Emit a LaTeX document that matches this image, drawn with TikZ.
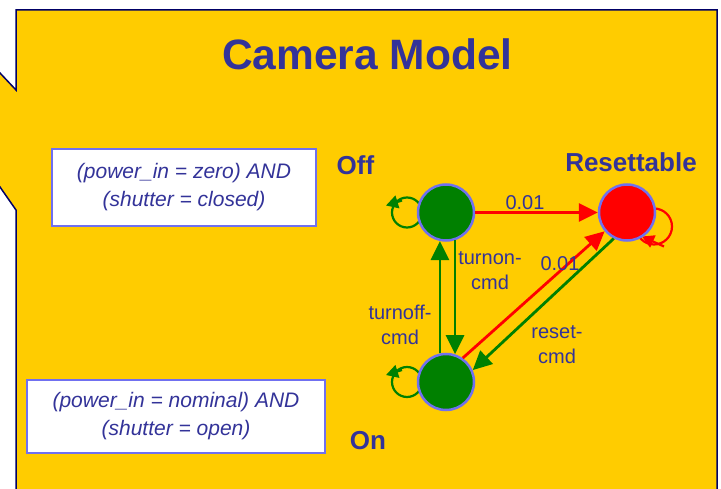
\documentclass[tikz,border=0pt]{standalone}
\usepackage{fontspec}
\setmainfont{Liberation Sans}
\usetikzlibrary{arrows.meta}
\definecolor{bg}{HTML}{FFCC00}
\definecolor{navy}{HTML}{333399}
\definecolor{frame}{HTML}{000066}
\definecolor{ring}{HTML}{7070F0}
\definecolor{sgreen}{HTML}{008000}
\definecolor{sred}{HTML}{FF0000}
\begin{document}
\begin{tikzpicture}[x=1pt,y=-1pt,
  state/.style={circle, draw=ring, line width=2.5pt, minimum size=56pt, inner sep=0pt},
  tr/.style={line width=2.8pt, -{Triangle[length=19pt,width=18pt]}},
  selfl/.style={line width=2.2pt},
  selftip/.style={line width=2.2pt, -{Triangle[length=12pt,width=13pt]}},
  lbl/.style={text=navy, font=\fontsize{20}{25}\selectfont, align=center, inner sep=0pt},
  cond/.style={draw=ring, line width=2.5pt, fill=white, text=navy, font=\fontsize{21}{28}\selectfont\itshape, align=center, inner sep=0pt},
  statename/.style={text=navy, font=\fontsize{26}{30}\selectfont\bfseries, anchor=base, inner sep=0pt}
]
\useasboundingbox (0,0) rectangle (721,489);
\fill[white] (0,0) rectangle (721,489);
\begin{scope}
\clip (0,0) rectangle (721,489);
\fill[bg] (-10,62.4) -- (16,90) -- (16,10) -- (717,10) -- (717,500) -- (16,500) -- (16,210) -- (-10,172.6) -- cycle;
\draw[frame, line width=1.5pt] (-10,62.4) -- (16,90) -- (16,10) -- (717,10) -- (717,500) -- (16,500) -- (16,210) -- (-10,172.6);
\end{scope}

\node[text=navy, font=\fontsize{42.5}{50}\selectfont\bfseries, anchor=base, inner sep=0pt] (title) at (367.5,70) {Camera Model};

\node[cond, minimum width=264pt, minimum height=77pt] (c1) at (184,187.5) {(power\_in = zero) AND\\(shutter = closed)};
\node[cond, minimum width=298pt, minimum height=73pt] (c2) at (176,416.5) {(power\_in = nominal) AND\\(shutter = open)};

% state positions
\coordinate (offc) at (446,212.5);
\coordinate (onc) at (446,382);
\coordinate (resc) at (627,212.5);

% self loops (behind states)
\draw[sgreen, selfl] ([shift={(-39,0)}]offc) circle[radius=15pt];
\draw[sgreen, selftip] ([shift={(-44,-12)}]offc) -- ([shift={(-60,-7)}]offc);
\draw[sgreen, selfl] ([shift={(-39,0)}]onc) circle[radius=15pt];
\draw[sgreen, selftip] ([shift={(-44,-12)}]onc) -- ([shift={(-60,-7)}]onc);
\draw[sred, selfl] ([shift={(27,14)}]resc) circle[radius=18pt];
\draw[sred, selftip] ([shift={(37,34)}]resc) -- ([shift={(15,24)}]resc);

\node[state, fill=sgreen] (off) at (offc) {};
\node[state, fill=sgreen] (on) at (onc) {};
\node[state, fill=sred] (res) at (resc) {};

\draw[tr, sgreen] (on.102) -- (off.258);
\draw[tr, sgreen] (off.288) -- (on.72);
\draw[tr, sred] (off.0) -- (res.180);
\draw[tr, sred] (on.55) -- (res.220);
\draw[tr, sgreen] (res.243) -- (on.24);

\node[lbl] (l1) at (525,203) {0.01};
\node[lbl] (l2) at (490,271) {turnon-\\cmd};
\node[lbl] (l3) at (560,264) {0.01};
\node[lbl] (l4) at (400,325) {turnoff-\\cmd};
\node[lbl] (l5) at (557,345) {reset-\\cmd};

\node[statename] (offname) at (355.5,175) {Off};
\node[statename] (resname) at (631,172) {Resettable};
\node[statename] (onname) at (368,449) {On};
\end{tikzpicture}
\end{document}
